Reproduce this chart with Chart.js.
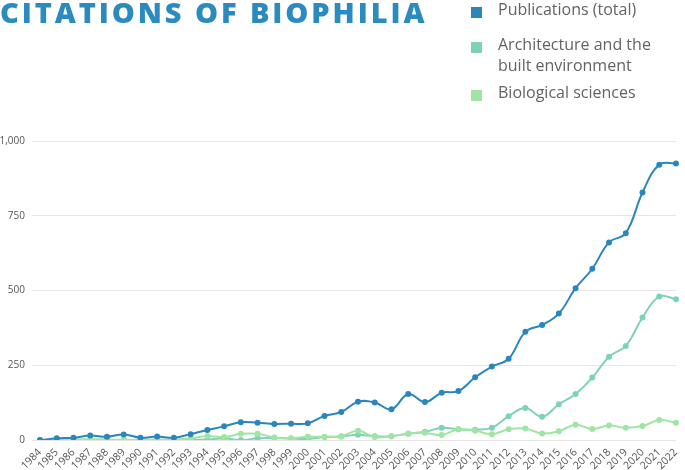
<!DOCTYPE html>
<html>
<head>
<meta charset="utf-8">
<script src="https://cdn.jsdelivr.net/npm/chart.js@4"></script>
<style>
  body { margin: 0; background: #fff; font-family: "Open Sans", sans-serif; }
  #wrap { position: relative; width: 685px; height: 470px; overflow: hidden; }
  #myChart { position: absolute; left: 0; top: 0; }
  #title {
    position: absolute; left: 0; top: -8px;
    font-family: "Open Sans", sans-serif; font-weight: 800; font-size: 29px;
    letter-spacing: 2.9px; color: #2b8bbf; white-space: nowrap;
  }
  #legend { position: absolute; left: 471px; top: 0; color: #636363; font-size: 16px; }
  .item { position: absolute; left: 0; width: 210px; line-height: 21px; }
  .item span.box { position: absolute; left: 0; top: 8px; width: 11px; height: 11px; }
  .item span.txt { position: absolute; left: 27px; top: 0; white-space: nowrap; }
</style>
</head>
<body>
<div id="wrap">
  <canvas id="myChart" width="685" height="470"></canvas>
  <div id="title">CITATIONS OF BIOPHILIA</div>
  <div id="legend"></div>
</div>
<script>
// chart values
var years = [];
for (let y = 1984; y <= 2022; y++) {
  years.push(String(y));
}

var publications = [0, 6, 8, 15, 11, 19, 8, 12, 8, 20, 34, 46, 60, 58, 54, 55, 56, 81, 94, 128,
  126, 103, 154, 127, 158, 164, 210, 246, 272, 362, 385, 423, 508, 573, 661, 692, 828, 921, 925];

var architecture = [0, 0, 0, 0, 0, 0, 0, 0, 0, 0, 2, 6, 0, 6, 7, 5, 4, 10, 12, 18,
  13, 13, 21, 28, 41, 36, 35, 41, 80, 107, 78, 120, 154, 209, 279, 315, 410, 480, 471];

var biological = [0, 1, 2, 3, 2, 1, 1, 2, 2, 6, 14, 10, 21, 21, 9, 6, 11, 11, 13, 31,
  10, 13, 22, 25, 17, 36, 31, 20, 36, 39, 22, 30, 51, 37, 49, 41, 47, 67, 58];

var seriesNames = ["Publications (total)", "Architecture and the\nbuilt environment", "Biological sciences"];
var colors = ["#2b87bb", "#7fd3b4", "#a0e5a4"];
var legendTops = [-1, 34, 82];

function makeSet(i, values, order) {
  return {
    label: seriesNames[i],
    data: values,
    borderColor: colors[i],
    backgroundColor: colors[i],
    pointBackgroundColor: colors[i],
    pointBorderColor: colors[i],
    borderWidth: 2,
    pointRadius: 2,
    tension: 0.4,
    order: order,
  };
}

const data = {
  labels: years,
  datasets: [
    makeSet(0, publications, 0),
    makeSet(1, architecture, 2),
    makeSet(2, biological, 1),
  ],
};

const config = {
  type: "line",
  data: data,
  options: {
    responsive: false,
    animation: false,
    layout: { padding: { top: 141, right: 9, left: 0, bottom: 0 } },
    plugins: {
      legend: { display: false },
      tooltip: { enabled: false },
    },
    scales: {
      x: {
        grid: { display: false },
        border: { display: false },
        ticks: {
          autoSkip: false,
          minRotation: 45,
          maxRotation: 45,
          color: "#555",
          font: { family: "Open Sans", size: 10.5 },
          padding: -2,
        },
      },
      y: {
        min: 0,
        max: 1000,
        grid: { color: "#e6e6e6", lineWidth: 1, tickLength: 8 },
        border: { display: false },
        afterFit: function (scale) {
          scale.width = 40;
        },
        ticks: {
          stepSize: 250,
          color: "#555",
          padding: 7,
          font: { family: "Open Sans", size: 10 },
        },
      },
    },
  },
};

const myChart = new Chart(document.getElementById("myChart"), config);

// legend built from the same names and colours
var legend = document.getElementById("legend");
for (let i = 0; i < seriesNames.length; i++) {
  let item = document.createElement("div");
  item.className = "item";
  item.style.top = legendTops[i] + "px";
  item.innerHTML = '<span class="box" style="background:' + colors[i] + '"></span>' +
    '<span class="txt">' + seriesNames[i].replace("\n", "<br>") + "</span>";
  legend.appendChild(item);
}
</script>
</body>
</html>
